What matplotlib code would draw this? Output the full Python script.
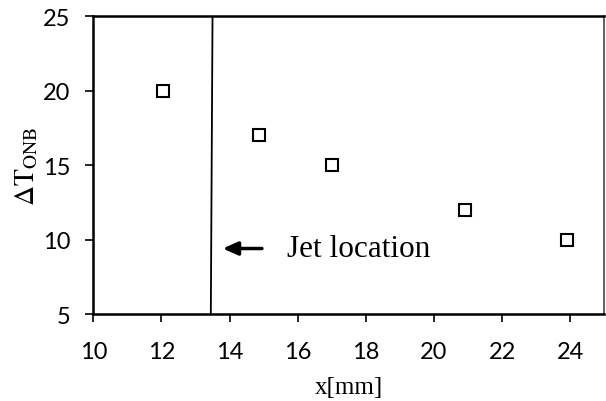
import numpy as np
import matplotlib
matplotlib.use("Agg")
import matplotlib.pyplot as plt

# data
x_mm = [12.05, 14.87, 17.0, 20.9, 23.9]
dT_onb = [20, 17, 15, 12, 10]
jet_x = [13.45, 13.5]
jet_y = [5, 25]
x_ticks = [10, 12, 14, 16, 18, 20, 22, 24]
y_ticks = [5, 10, 15, 20, 25]

plt.rcParams["mathtext.fontset"] = "stix"

fig = plt.figure(figsize=(6.06, 4.02), dpi=100)
ax = fig.add_axes([0.154, 0.2164, 0.843, 0.7406])

ax.plot(x_mm, dT_onb, linestyle="none", marker="s", markersize=9,
        markerfacecolor="white", markeredgecolor="black", markeredgewidth=1.5)
ax.plot(jet_x, jet_y, color="black", linewidth=1.3)

ax.annotate("", xy=(13.8, 9.4), xytext=(14.95, 9.4),
            arrowprops=dict(arrowstyle="-|>,head_length=0.9,head_width=0.4",
                            color="black", lw=2.5, shrinkA=0, shrinkB=0))
ax.text(15.7, 9.4, "Jet location", family="Liberation Serif", fontsize=22.5,
        va="center", ha="left")

ax.set_xlim(10, 25)
ax.set_ylim(5, 25)
ax.set_xticks(x_ticks)
ax.set_yticks(y_ticks)
ax.tick_params(axis="both", direction="out", length=5.5, width=1.2,
               labelsize=17)
ax.tick_params(axis="x", pad=14)
ax.tick_params(axis="y", pad=11)
for lab in ax.get_xticklabels() + ax.get_yticklabels():
    lab.set_family("Lato")

for side in ["left", "bottom", "top"]:
    ax.spines[side].set_linewidth(1.8)
ax.spines["right"].set_linewidth(1.2)
ax.spines["right"].set_color("#444444")

ax.set_xlabel("x[mm]", family="Liberation Serif", fontsize=18, labelpad=10)
ax.set_ylabel(r"$\Delta\mathrm{T}_{\mathrm{ONB}}$", fontsize=20, labelpad=2)

fig.savefig("out.png", dpi=100)
